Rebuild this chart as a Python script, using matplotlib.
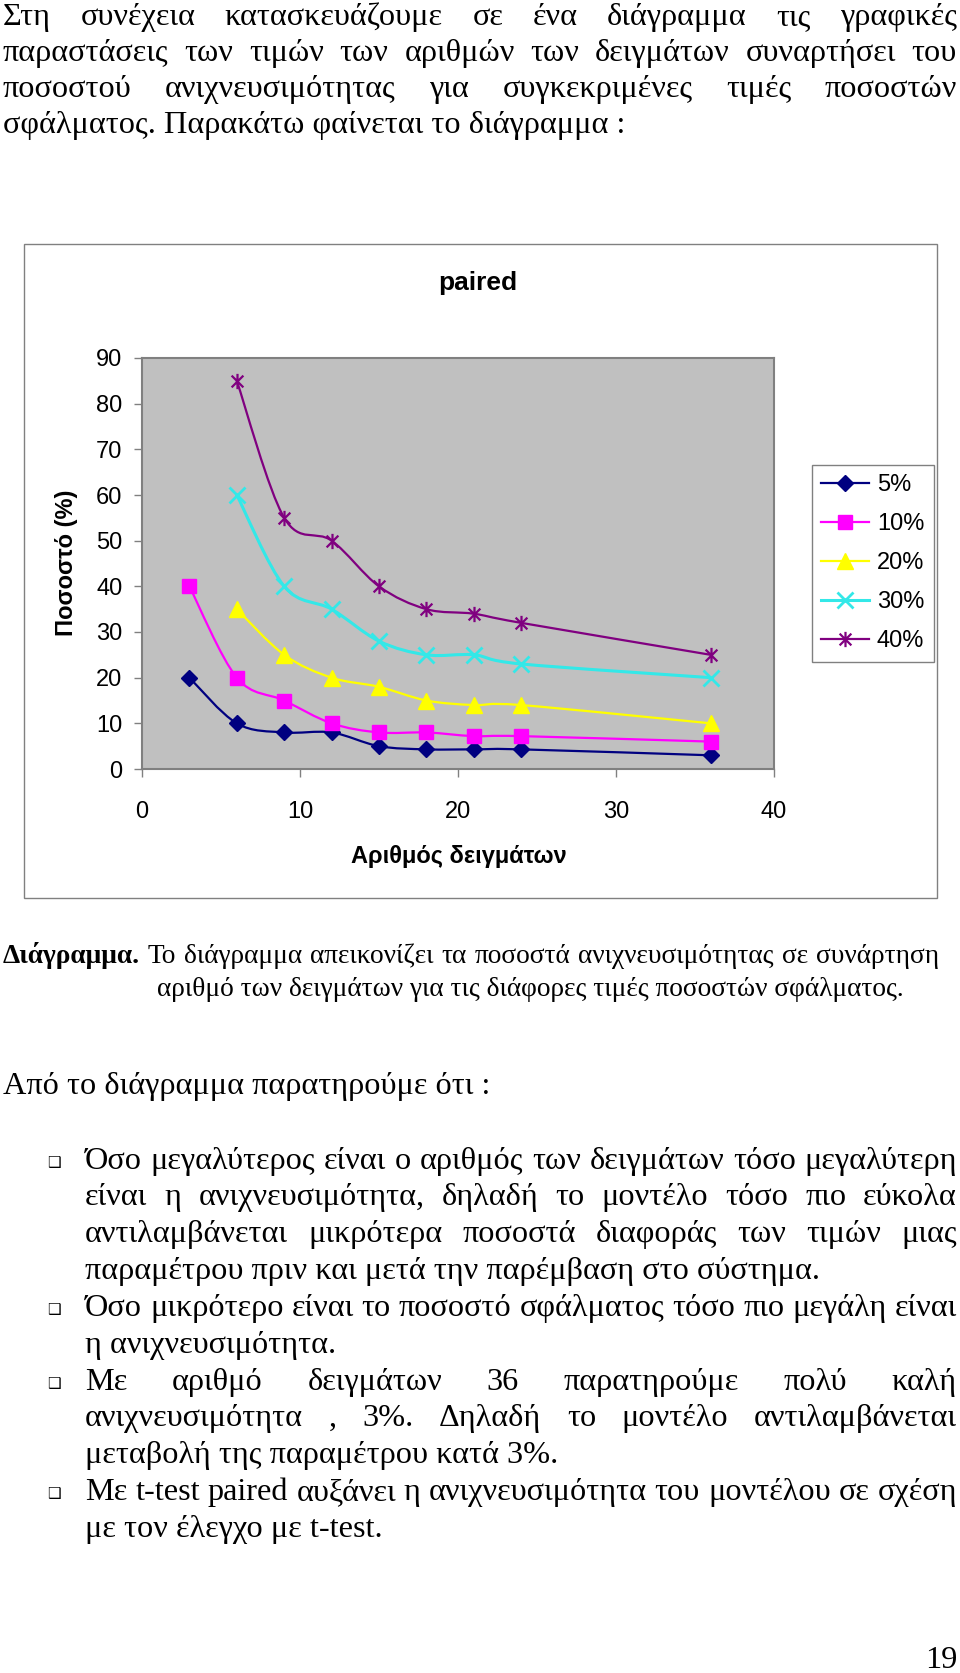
import numpy as np
import matplotlib
matplotlib.use("Agg")
import matplotlib.pyplot as plt
from matplotlib.path import Path
from matplotlib.patches import PathPatch, Rectangle
from matplotlib.lines import Line2D

W, H = 960, 1673
SERIF = "Liberation Serif"
SANS = "Liberation Sans"

# --- chart data ---
samples = [3, 6, 9, 12, 15, 18, 21, 24, 36]
samples_6 = [6, 9, 12, 15, 18, 21, 24, 36]
err_labels = ["5%", "10%", "20%", "30%", "40%"]
det_5 = [20, 10, 8, 8, 5, 4.3, 4.3, 4.3, 3]
det_10 = [40, 20, 15, 10, 8, 8, 7.2, 7.2, 6]
det_20 = [35, 25, 20, 18, 15, 14, 14, 10]
det_30 = [60, 40, 35, 28, 25, 25, 23, 20]
det_40 = [85, 55, 50, 40, 35, 34, 32, 25]

title = "paired"
xlabel = "Αριθμός δειγμάτων"
ylabel = "Ποσοστό (%)"
xticks = [0, 10, 20, 30, 40]
yticks = [0, 10, 20, 30, 40, 50, 60, 70, 80, 90]

# --- page text ---
intro_lines = [
    "Στη συνέχεια κατασκευάζουμε σε ένα διάγραμμα τις γραφικές",
    "παραστάσεις των τιμών των αριθμών των δειγμάτων συναρτήσει του",
    "ποσοστού ανιχνευσιμότητας για συγκεκριμένες τιμές ποσοστών",
    "σφάλματος. Παρακάτω φαίνεται το διάγραμμα :",
]
caption_lines = [
    "Διάγραμμα. Το διάγραμμα απεικονίζει τα ποσοστά ανιχνευσιμότητας σε συνάρτηση",
    "αριθμό των δειγμάτων για τις διάφορες τιμές ποσοστών σφάλματος.",
]
lead_line = "Από το διάγραμμα παρατηρούμε ότι :"
# (text, justified, starts a bullet)
bullet_lines = [
    ("Όσο μεγαλύτερος είναι ο αριθμός των δειγμάτων τόσο μεγαλύτερη", True, True),
    ("είναι η ανιχνευσιμότητα, δηλαδή το μοντέλο τόσο πιο εύκολα", True, False),
    ("αντιλαμβάνεται μικρότερα ποσοστά διαφοράς των τιμών μιας", True, False),
    ("παραμέτρου πριν και μετά την παρέμβαση στο σύστημα.", False, False),
    ("Όσο μικρότερο είναι το ποσοστό σφάλματος τόσο πιο μεγάλη είναι", True, True),
    ("η ανιχνευσιμότητα.", False, False),
    ("Με αριθμό δειγμάτων 36 παρατηρούμε πολύ καλή", True, True),
    ("ανιχνευσιμότητα , 3%. Δηλαδή το μοντέλο αντιλαμβάνεται", True, False),
    ("μεταβολή της παραμέτρου κατά 3%.", False, False),
    ("Με t-test paired αυξάνει η ανιχνευσιμότητα του μοντέλου σε σχέση", True, True),
    ("με τον έλεγχο με t-test.", False, False),
]
page_number = "19"


def fx(x):
    return x / W


def fy(y):
    return 1 - y / H


def smooth_path(xs, ys):
    # Excel-like smoothed line: cubic Bezier through the data points
    pts = np.column_stack([xs, ys]).astype(float)
    n = len(pts)
    verts = [pts[0]]
    codes = [Path.MOVETO]
    for i in range(n - 1):
        p0 = pts[i - 1] if i > 0 else pts[i]
        p1 = pts[i]
        p2 = pts[i + 1]
        p3 = pts[i + 2] if i + 2 < n else pts[i + 1]
        verts += [p1 + (p2 - p0) / 6, p2 - (p3 - p1) / 6, p2]
        codes += [Path.CURVE4] * 3
    return Path(verts, codes)


star = Path([(-1, -1), (1, 1), (-1, 1), (1, -1), (0, -1.3), (0, 1.3)],
            [Path.MOVETO, Path.LINETO] * 3)

fig = plt.figure(figsize=(W / 100, H / 100), dpi=100)

# chart frame
fig.add_artist(Rectangle((fx(23.5), fy(898)), (937 - 23.5) / W, (898 - 244) / H,
                         transform=fig.transFigure, fill=False,
                         edgecolor="#808080", lw=1.0))

ax = fig.add_axes([fx(142), fy(769), (774 - 142) / W, (769 - 358) / H])
ax.set_facecolor("#C0C0C0")
for s in ax.spines.values():
    s.set_color("#808080")
    s.set_linewidth(1.5)
ax.set_xlim(0, 40)
ax.set_ylim(0, 90)
ax.set_xticks(xticks)
ax.set_yticks(yticks)
ax.tick_params(direction="out", length=6, width=1, color="#808080",
               labelsize=17, labelfontfamily=SANS)
ax.tick_params(axis="y", pad=8)
ax.tick_params(axis="x", pad=17)

series = [
    (samples, det_5, "#000080", "D", dict(ms=8)),
    (samples, det_10, "#FF00FF", "s", dict(ms=10)),
    (samples_6, det_20, "#FFFF00", "^", dict(ms=11)),
    (samples_6, det_30, "#33E8E8", "x", dict(ms=11, mew=2)),
    (samples_6, det_40, "#800080", star, dict(ms=11, mew=1.6, mfc="none")),
]
handles = []
for (xs, ys, c, m, kw), lab in zip(series, err_labels):
    lw = 2.2 if c == "#33E8E8" else 1.6
    ax.add_patch(PathPatch(smooth_path(xs, ys), fill=False, edgecolor=c,
                           lw=lw, zorder=2))
    ax.plot(xs, ys, ls="none", marker=m, color=c, zorder=3, **kw)
    handles.append(Line2D([], [], color=c, lw=lw, marker=m, **kw))

ax.legend(handles, err_labels, loc="upper left",
          bbox_to_anchor=(fx(812), fy(465)), bbox_transform=fig.transFigure,
          fancybox=False, edgecolor="#808080", framealpha=1,
          prop={"family": SANS, "size": 17}, borderaxespad=0,
          borderpad=0.4, labelspacing=0.72, handlelength=2.0,
          handletextpad=0.35)

fig.text(fx(478), fy(283), title, ha="center", va="center",
         fontsize=19, fontweight="bold", family=SANS)
fig.text(fx(66), fy(563), ylabel, ha="center", va="center", rotation=90,
         fontsize=17, fontweight="bold", family=SANS)
fig.text(fx(459), fy(856), xlabel, ha="center", va="center",
         fontsize=17, fontweight="bold", family=SANS)

# --- body text ---
renderer = fig.canvas.get_renderer()


def text_width(s, size, weight="normal"):
    t = fig.text(0, 0, s, fontsize=size, family=SERIF, fontweight=weight)
    w = t.get_window_extent(renderer).width
    t.remove()
    return w


def put_line(line, x0, x1, y, size, justify=True, bold_first=False):
    if not justify:
        fig.text(fx(x0), fy(y), line, fontsize=size, family=SERIF,
                 va="baseline", ha="left")
        return
    words = line.split()
    weights = ["bold" if (bold_first and i == 0) else "normal"
               for i in range(len(words))]
    widths = [text_width(w, size, wt) for w, wt in zip(words, weights)]
    gap = (x1 - x0 - sum(widths)) / (len(words) - 1)
    x = x0
    for w, wt, wd in zip(words, weights, widths):
        fig.text(fx(x), fy(y), w, fontsize=size, family=SERIF,
                 fontweight=wt, va="baseline", ha="left")
        x += wd + gap


body_size = 20 * 732 / text_width(bullet_lines[3][0], 20)
cap_size = 20 * 746 / text_width(caption_lines[1], 20)

intro_base = [25, 61, 97, 133]
for i, (line, y) in enumerate(zip(intro_lines, intro_base)):
    put_line(line, 3, 957, y, body_size, justify=(i < 3))

put_line(caption_lines[0], 3, 939, 963, cap_size, justify=True, bold_first=True)
put_line(caption_lines[1], 157, 903, 996, cap_size, justify=False)

put_line(lead_line, 3, 957, 1094, body_size, justify=False)

bullet_base = [1169, 1205, 1242, 1279, 1316, 1353, 1390, 1426, 1463, 1500, 1537]
for (line, just, bul), y in zip(bullet_lines, bullet_base):
    if bul:
        fig.text(fx(47), fy(y - 2), "\u2751", fontsize=11, family="DejaVu Sans",
                 va="baseline", ha="left")
    put_line(line, 85, 957, y, body_size, justify=just)

fig.text(fx(957), fy(1668), page_number, fontsize=body_size, family=SERIF,
         va="baseline", ha="right")

fig.savefig("out.png", dpi=100)
